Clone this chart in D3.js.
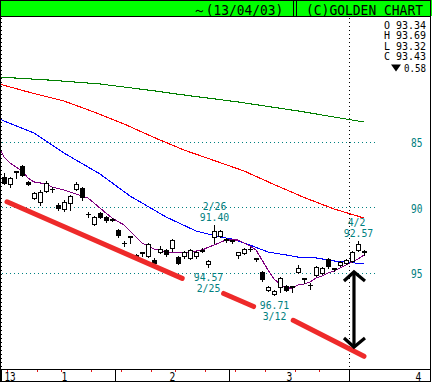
<!DOCTYPE html>
<html><head><meta charset="utf-8">
<script src="https://cdn.jsdelivr.net/npm/d3@7"></script>
<style>
html,body{margin:0;padding:0;background:#fff;}
svg{display:block;}
text{font-family:"DejaVu Sans Mono","Liberation Mono",monospace;}
</style></head><body>
<svg id="c" width="432" height="383"></svg>
<script>
// ---------------- data ----------------
const dates = ["1/4","1/7","1/8","1/9","1/10","1/11","1/15","1/16","1/17","1/18","1/21","1/22","1/23","1/24","1/25","1/28","1/29","1/30","1/31",
"2/1","2/4","2/5","2/6","2/7","2/8","2/12","2/13","2/14","2/15","2/18","2/19","2/20","2/21","2/22","2/25","2/26","2/27","2/28",
"3/1","3/4","3/5","3/6","3/7","3/8","3/11","3/12","3/13","3/14","3/15","3/18","3/19","3/21","3/22","3/25","3/26","3/27","3/28","3/29",
"4/1","4/2","4/3"];
const open = [88.17,87.79,87.25,87.56,88.24,88.93,88.85,88.17,88.62,90.08,89.62,89.16,88.24,89.24,90.53,90.76,90.76,90.99,90.92,92.14,92.73,92.21,93.89,93.44,92.83,94.27,93.21,93.59,92.52,94.27,93.44,93.28,93.44,93.36,94.12,91.83,91.83,92.44,92.52,93.44,93.21,93.17,93.89,95.49,96.11,96.41,95.42,96.34,96.03,94.66,95.42,95.95,94.58,94.66,94.50,94.66,94.20,94.05,93.44,92.83,93.34];
const high = [88.24,88.47,87.79,87.63,88.32,89.39,89.85,88.85,88.85,90.23,90.31,90.23,88.70,89.47,90.76,91.37,90.84,91.15,91.07,92.29,92.98,92.75,93.97,93.74,93.82,94.43,93.51,93.74,93.36,94.35,93.89,93.97,93.89,93.44,94.57,92.75,92.29,92.67,92.75,93.89,93.59,93.36,94.12,95.65,96.41,96.71,96.49,96.41,96.49,95.04,95.80,96.26,95.27,95.11,94.66,94.89,94.50,94.35,94.20,93.36,93.69];
const low = [87.40,87.71,87.25,86.79,88.02,88.85,88.70,88.02,88.47,89.70,89.47,89.08,88.09,88.47,90.38,90.69,90.38,90.69,90.84,91.68,92.60,92.21,93.59,93.44,92.75,93.89,92.98,93.21,92.44,93.74,93.36,93.21,93.36,93.13,94.05,91.40,91.76,92.37,92.52,93.40,93.13,93.05,93.89,94.89,96.03,96.34,95.34,95.95,96.03,94.43,95.42,95.80,94.50,94.58,93.89,94.66,94.12,93.97,93.36,92.57,93.32];
const close = [87.71,88.24,87.33,86.87,88.09,89.31,89.62,88.78,88.64,89.85,90.15,89.69,88.62,88.55,90.55,91.30,90.46,90.76,90.99,91.76,92.77,92.29,93.66,93.52,93.74,94.05,93.44,93.28,93.13,93.82,93.74,93.89,93.74,93.28,94.35,92.29,92.21,92.52,92.60,93.66,93.51,93.20,93.97,94.96,96.34,96.64,96.11,96.03,96.11,94.96,95.50,95.97,95.19,95.04,93.97,94.73,94.43,94.27,94.12,93.28,93.43];

// moving averages (read at day-index positions)
const maShortIdx = [-0.8,0,1,2,3,4,5,7,8,10,12,14,16,18,20,22,23,25,27,29,31,33,35,37,39,41,42,43,44,45,46,47,48,49,50,51,52,53,54,55,56,57,58,59,60];
const maShort = [85.5,86.18,86.64,86.95,87.25,87.79,88.09,88.24,88.47,88.70,89.01,89.31,90.08,90.84,91.37,92.29,92.75,93.21,93.44,93.44,93.44,93.28,92.90,92.52,92.52,92.98,93.28,94.05,94.81,95.50,95.88,96.18,96.18,95.95,95.88,95.73,95.42,95.27,95.04,94.89,94.66,94.43,94.20,93.97,93.66];
const maMidIdx = [-0.8,5,10,16,21,27,32,36,38,41,44,47,49,52,55,57,60];
const maMid = [83.28,84.35,85.88,87.48,89.16,90.76,91.83,92.29,92.44,92.90,93.44,93.66,93.82,93.89,94.12,94.20,94.35];
const maLongIdx = [-0.8,5,10,15,20,25,30,35,40,45,50,55,60];
const maLong = [80.61,81.34,81.91,82.75,83.66,84.69,85.65,86.45,87.25,88.28,89.27,90.15,90.84];
const maVLongIdx = [-0.8,7.5,16,24,30,39,49,60];
const maVLong = [80.08,80.31,80.61,81.07,81.45,81.98,82.67,83.51];

// hand-drawn trend line segments [startIdx, startVal, endIdx, endVal]
const trendSegs = [[0.5,89.6,29.7,95.45],[36.6,96.6,41.6,97.6],[48.2,98.65,60.0,101.4]];
// double arrow: day index, top value, bottom value
const arrowIdx = 58.33, arrowTop = 94.96, arrowBottom = 100.69;

// annotations
const annIdx = [35,59,34,45];
const annSide = ["low","low","high","high"];

// axes
const gridVals = [85,90,95];
const weekStartIdx = [0,1,6,10,15,20,25,29,34,39,44,49,53,58];
const monthStartIdx = [19,38,58];
const monthLabels = ["1","2","3","4"];
const monthLabelIdx = [10,28,47.5,69];
const yearLabel = "13";
const fiscalLineIdx = 58;

// header
const titleRange = "～(13/04/03)";
const titleBrand = "(C)GOLDEN CHART";
const lastChange = -0.58;

// ---------------- drawing ----------------
const W = 432, H = 383;
const svg = d3.select("#c");
const x = d3.scaleLinear().domain([0,60]).range([4,364]);
const y = d3.scaleLinear().domain([85,95]).range([141.5,272.5]);
const col = i => Math.round(x(i));
const row = v => Math.round(y(v));
const TEAL = "#008080";

svg.append("rect").attr("width",W).attr("height",H).attr("fill","#fff");

// clip for plot
svg.append("clipPath").attr("id","pc").append("rect").attr("x",1).attr("y",17).attr("width",429).attr("height",352);
const plot = svg.append("g").attr("clip-path","url(#pc)");

// horizontal teal dotted grid
plot.selectAll("line.grid").data(gridVals).join("line").attr("class","grid")
  .attr("x1",2).attr("x2",376)
  .attr("y1",d=>row(d)+0.5).attr("y2",d=>row(d)+0.5)
  .attr("stroke",TEAL).attr("stroke-width",1).attr("stroke-dasharray","1,3")
  .attr("shape-rendering","crispEdges");

// vertical black dotted lines (year start, April)
plot.selectAll("line.vdot").data([0,fiscalLineIdx]).join("line").attr("class","vdot")
  .attr("x1",d=>col(d)-2.5).attr("x2",d=>col(d)-2.5)
  .attr("y1",18).attr("y2",369)
  .attr("stroke","#000").attr("stroke-width",1).attr("stroke-dasharray","1,3")
  .attr("shape-rendering","crispEdges");

// moving averages
const lineGen = d3.line().x(d=>x(d[0])).y(d=>y(d[1]));
const mas = [
  [maVLongIdx, maVLong, "#008000"],
  [maLongIdx, maLong, "#ff0000"],
  [maMidIdx, maMid, "#0000ff"],
  [maShortIdx, maShort, "#800080"]
];
mas.forEach(([idx, vals, c]) => {
  plot.append("path").datum(idx.map((d,k)=>[d, vals[k]]))
    .attr("d", lineGen).attr("fill","none").attr("stroke",c).attr("stroke-width",1.1)
    .attr("shape-rendering","crispEdges");
});

// candles
const cg = plot.append("g");
open.forEach((o,i) => {
  const c = close[i];
  const cx = col(i);
  cg.append("line").attr("x1",cx+0.5).attr("x2",cx+0.5)
    .attr("y1",row(low[i])).attr("y2",row(high[i])+1)
    .attr("stroke","#000").attr("stroke-width",1).attr("shape-rendering","crispEdges");
  const t = row(Math.min(o,c)), b = row(Math.max(o,c));
  if (b - t <= 1) {
    cg.append("rect").attr("x",cx-2).attr("y",t).attr("width",5).attr("height",b-t+1)
      .attr("fill","#000").attr("shape-rendering","crispEdges");
  } else {
    cg.append("rect").attr("x",cx-1.5).attr("y",t+0.5).attr("width",4).attr("height",b-t)
      .attr("fill", c < o ? "#000" : "#fff").attr("stroke","#000").attr("stroke-width",1)
      .attr("shape-rendering","crispEdges");
  }
});

// trend line segments
plot.selectAll("line.trend").data(trendSegs).join("line").attr("class","trend")
  .attr("x1",d=>x(d[0])).attr("y1",d=>y(d[1]))
  .attr("x2",d=>x(d[2])).attr("y2",d=>y(d[3]))
  .attr("stroke","#ee2a2a").attr("stroke-width",5).attr("stroke-linecap","round");

// double arrow
const ax = x(arrowIdx), ay1 = y(arrowTop), ay2 = y(arrowBottom);
const ag = plot.append("g").attr("stroke","#000").attr("stroke-width",3.2).attr("fill","none");
ag.append("line").attr("x1",ax).attr("x2",ax).attr("y1",ay1+1).attr("y2",ay2-1);
ag.append("path").attr("d",`M${ax-10},${ay1+9}L${ax},${ay1}L${ax+11},${ay1+9}`);
ag.append("path").attr("d",`M${ax-10},${ay2-9}L${ax},${ay2}L${ax+11},${ay2-9}`);

// text helper
function monoText(g, str, cx, by, size, charW, color, anchor) {
  const len = charW * str.length;
  const sx = anchor === "middle" ? cx - len/2 : (anchor === "end" ? cx - len : cx);
  return g.append("text").attr("x",sx).attr("y",by).text(str)
    .attr("font-size",size).attr("fill",color)
    .attr("textLength",len).attr("lengthAdjust","spacingAndGlyphs");
}
// annotations
const annSize = 10, annGap = 11.5;
annIdx.forEach((i,k) => {
  const cx = col(i) + 0.5;
  if (annSide[k] === "low") {
    const pb = row(low[i]) - 4;
    monoText(plot, low[i].toFixed(2), cx, pb, annSize, 5.9, TEAL, "middle");
    monoText(plot, dates[i], cx - (dates[i].length<4?2:0), pb - annGap, annSize, 5.9, TEAL, "middle");
  } else {
    const pb = row(high[i]) + 13.5;
    monoText(plot, high[i].toFixed(2), cx, pb, annSize, 5.9, TEAL, "middle");
    monoText(plot, dates[i], cx, pb + annGap, annSize, 5.9, TEAL, "middle");
  }
});

// right axis
const ra = svg.append("g").attr("transform","translate(411,0)")
  .call(d3.axisRight(y).tickValues(gridVals).tickSize(0).tickPadding(0).tickFormat(d3.format("d")));
ra.select(".domain").remove();
ra.selectAll("text").attr("fill",TEAL).attr("font-size",11.5).attr("dy","0.45em")
  .attr("font-family","DejaVu Sans Mono").attr("textLength",11.5).attr("lengthAdjust","spacingAndGlyphs");

// OHLC readout
const li = open.length - 1;
const ohlc = [["O",open[li]],["H",high[li]],["L",low[li]],["C",close[li]]];
const ohlcBase = [28.5,39,49.5,60];
ohlc.forEach((d,k) => monoText(svg, d[0]+" "+d[1].toFixed(2), 426, ohlcBase[k], 10.5, 6.0, "#000", "end"));
monoText(svg, Math.abs(lastChange).toFixed(2), 426, 71.5, 10.5, 5.5, "#000", "end");
svg.append("path").attr("d", lastChange < 0 ? "M391,64.5L401,64.5L396,71.5Z" : "M391,71.5L401,71.5L396,64.5Z").attr("fill","#000");

// bottom axis band
svg.append("line").attr("x1",0).attr("x2",431).attr("y1",369.5).attr("y2",369.5)
  .attr("stroke","#000").attr("shape-rendering","crispEdges");
svg.selectAll("line.wk").data(weekStartIdx).join("line").attr("class","wk")
  .attr("x1",d=>col(d)-2.5).attr("x2",d=>col(d)-2.5).attr("y1",370).attr("y2",372)
  .attr("stroke","#e01818").attr("shape-rendering","crispEdges");
svg.selectAll("line.mo").data([0].concat(monthStartIdx)).join("line").attr("class","mo")
  .attr("x1",d=>col(d)-2.5).attr("x2",d=>col(d)-2.5).attr("y1",370).attr("y2",382)
  .attr("stroke","#000").attr("shape-rendering","crispEdges");
monoText(svg, yearLabel, col(0)+0.5, 380.5, 11.5, 5.6, "#000", "start");
monthLabels.forEach((m,k) => monoText(svg, m, x(monthLabelIdx[k])+0.5, 380.5, 11.5, 5.8, "#000", "middle"));

// header
svg.append("rect").attr("x",0).attr("y",0).attr("width",W).attr("height",16).attr("fill","#00ff00");
svg.append("line").attr("x1",0).attr("x2",431).attr("y1",16.5).attr("y2",16.5)
  .attr("stroke","#000").attr("shape-rendering","crispEdges");
[293,296].forEach(v => svg.append("line").attr("x1",v+0.5).attr("x2",v+0.5).attr("y1",0).attr("y2",17)
  .attr("stroke","#000").attr("shape-rendering","crispEdges"));
monoText(svg, titleRange, 193, 15, 14, 8.2, "#000", "start");
monoText(svg, titleBrand, 306, 15, 14, 7.8, "#000", "start");

// outer frame
svg.append("rect").attr("x",0.5).attr("y",0.5).attr("width",430).attr("height",381)
  .attr("fill","none").attr("stroke","#000").attr("shape-rendering","crispEdges");
</script>
</body></html>
